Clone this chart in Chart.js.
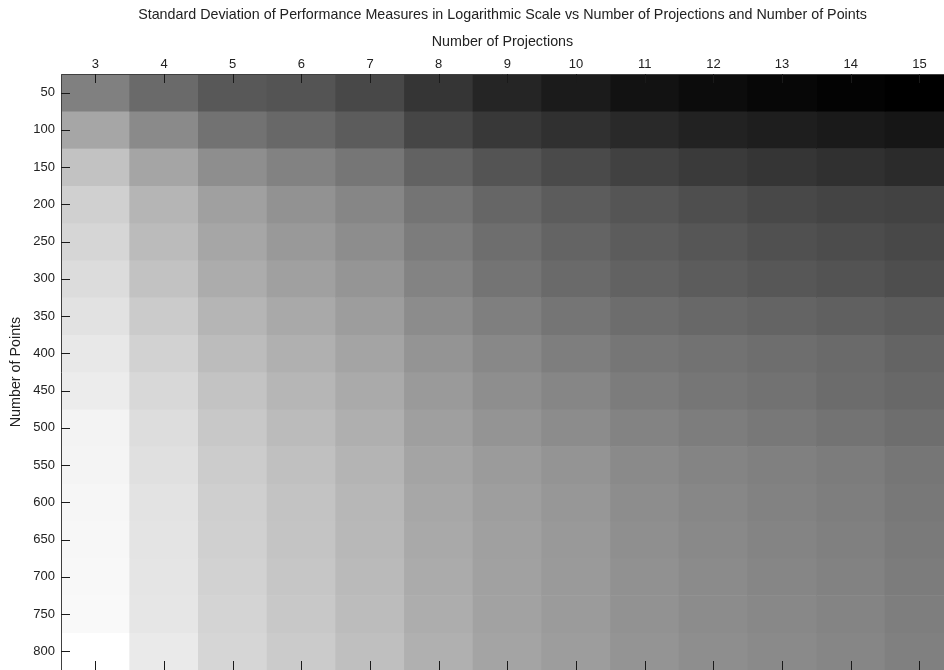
<!DOCTYPE html>
<html>
<head>
<meta charset="utf-8">
<script src="https://cdn.jsdelivr.net/npm/chart.js@4/dist/chart.umd.min.js"></script>
<style>
  html, body { margin: 0; padding: 0; background: #fff; overflow: hidden; }
</style>
</head>
<body>
<canvas id="container" width="944" height="670"></canvas>
<script>
const projections = [3, 4, 5, 6, 7, 8, 9, 10, 11, 12, 13, 14, 15];
const points = [50, 100, 150, 200, 250, 300, 350, 400, 450, 500, 550, 600, 650, 700, 750, 800];
// gray level (0 = black, 255 = white) of each cell, one row per number of points
const gray50 = [128, 106, 88, 84, 72, 53, 37, 27, 18, 12, 7, 3, 0];
const gray100 = [166, 138, 114, 104, 92, 70, 56, 48, 41, 34, 30, 26, 22];
const gray150 = [194, 165, 142, 130, 118, 98, 84, 74, 65, 58, 53, 48, 43];
const gray200 = [208, 181, 160, 146, 134, 116, 102, 92, 85, 78, 72, 68, 66];
const gray250 = [214, 187, 166, 153, 141, 124, 110, 100, 92, 86, 80, 76, 72];
const gray300 = [220, 194, 172, 160, 149, 131, 116, 106, 98, 92, 87, 83, 78];
const gray350 = [226, 203, 181, 169, 157, 140, 127, 117, 109, 104, 100, 96, 92];
const gray400 = [232, 210, 188, 176, 164, 148, 136, 126, 118, 114, 110, 106, 100];
const gray450 = [236, 216, 195, 182, 170, 154, 142, 134, 124, 118, 114, 108, 104];
const gray500 = [243, 221, 200, 187, 175, 159, 148, 140, 131, 125, 120, 115, 110];
const gray550 = [244, 224, 204, 192, 180, 164, 155, 148, 138, 132, 128, 124, 118];
const gray600 = [246, 227, 207, 195, 183, 167, 158, 151, 141, 135, 130, 126, 120];
const gray650 = [247, 228, 208, 196, 184, 169, 160, 153, 143, 137, 132, 128, 122];
const gray700 = [248, 229, 210, 198, 186, 171, 161, 154, 145, 139, 134, 130, 124];
const gray750 = [249, 230, 212, 200, 188, 173, 162, 155, 146, 140, 136, 132, 126];
const gray800 = [255, 234, 214, 203, 191, 176, 164, 157, 148, 142, 138, 134, 128];
const grayRows = [gray50, gray100, gray150, gray200, gray250, gray300, gray350, gray400,
  gray450, gray500, gray550, gray600, gray650, gray700, gray750, gray800];

const chartTitle = "Standard Deviation of Performance Measures in Logarithmic Scale vs Number of Projections and Number of Points";
const rowStep = 50;
const family = "'Liberation Sans', Arial, sans-serif";
const tickFont = { family: family, size: 13 };
const titleFont = { family: family, size: 14.3, weight: "normal" };

const datasets = [];
for (let r = 0; r < points.length; r++) {
  datasets.push({
    label: `${points[r]}`,
    data: projections.map((p) => ({ x: p, y: [points[r] - rowStep / 2, points[r] + rowStep / 2] })),
    backgroundColor: grayRows[r].map((g) => `rgb(${g},${g},${g})`),
    borderWidth: 0,
    barPercentage: 1,
    categoryPercentage: 1,
    grouped: false,
  });
}

// MATLAB style frame with inward ticks, drawn over the cells
const axisFrame = {
  id: "axisFrame",
  afterDatasetsDraw(chart) {
    const { ctx, chartArea: a, scales } = chart;
    ctx.save();
    ctx.lineWidth = 1;
    ctx.strokeStyle = "#404040";
    ctx.beginPath();
    ctx.moveTo(a.left + 0.5, a.bottom);
    ctx.lineTo(a.left + 0.5, a.top + 0.5);
    ctx.lineTo(a.right, a.top + 0.5);
    ctx.stroke();
    ctx.strokeStyle = "#1a1a1a";
    ctx.beginPath();
    projections.forEach((v) => {
      const px = Math.round(scales.x.getPixelForValue(v)) + 0.5;
      ctx.moveTo(px, a.top);
      ctx.lineTo(px, a.top + 9);
      ctx.moveTo(px, a.bottom);
      ctx.lineTo(px, a.bottom - 9);
    });
    points.forEach((v) => {
      const py = Math.round(scales.y.getPixelForValue(v)) + 0.5;
      ctx.moveTo(a.left, py);
      ctx.lineTo(a.left + 9, py);
    });
    ctx.stroke();
    ctx.restore();
  },
};

const myChart = new Chart(document.getElementById("container"), {
  type: "bar",
  data: { datasets: datasets },
  plugins: [axisFrame],
  options: {
    responsive: false,
    animation: false,
    devicePixelRatio: 1,
    layout: { padding: 0 },
    plugins: {
      legend: { display: false },
      tooltip: { enabled: false },
      title: { display: false },
    },
    scales: {
      x: {
        type: "linear",
        position: "top",
        offset: false,
        min: 2.5,
        max: 15.358,
        grid: { display: false, drawTicks: false },
        border: { display: false },
        ticks: { color: "#222", font: tickFont, padding: 2.2 },
        afterBuildTicks: (scale) => { scale.ticks = projections.map((v) => ({ value: v })); },
        afterFit: (scale) => { scale.height = 74; scale.paddingLeft = 0; scale.paddingRight = 0; },
        title: {
          display: true,
          // main title and axis title, centred over the axes
          text: [chartTitle, "Number of Projections"],
          color: "#222",
          font: { ...titleFont, lineHeight: 27 / 14.3 },
          padding: { top: 1.5, bottom: 0 },
        },
      },
      y: {
        type: "linear",
        reverse: true,
        min: 25,
        max: 825,
        grid: { display: false, drawTicks: false },
        border: { display: false },
        ticks: { color: "#222", font: tickFont, padding: 6 },
        afterBuildTicks: (scale) => { scale.ticks = points.map((v) => ({ value: v })); },
        afterFit: (scale) => { scale.width = 61; scale.paddingTop = 0; scale.paddingBottom = 0; },
        title: {
          display: true,
          text: "Number of Points",
          color: "#222",
          font: titleFont,
          padding: { top: 7.4, bottom: 0 },
        },
      },
    },
  },
});
</script>
</body>
</html>
